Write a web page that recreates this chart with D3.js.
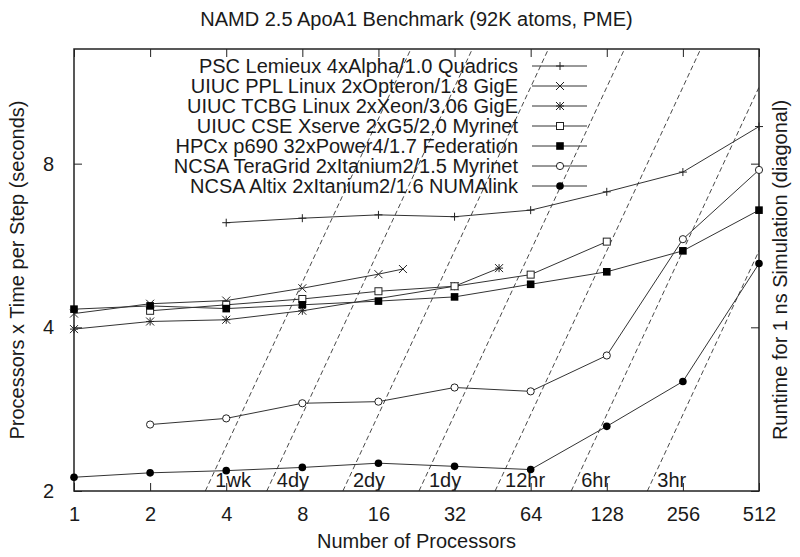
<!DOCTYPE html>
<html>
<head>
<meta charset="utf-8">
<script src="https://cdn.jsdelivr.net/npm/d3@7"></script>
<style>
  body { margin: 0; background: #fff; }
  text { font-family: "Liberation Sans", Arial, sans-serif; fill: #1a1a1a; }
</style>
</head>
<body>
<script>
// processor counts / values (P x time per step, seconds)
const lemieuxP = [4, 8, 16, 32, 64, 128, 256, 512];
const lemieuxY = [6.23, 6.35, 6.44, 6.39, 6.57, 7.10, 7.72, 9.36];
const opteronP = [1, 2, 4, 8, 16, 20];
const opteronY = [4.24, 4.42, 4.48, 4.72, 5.01, 5.12];
const xeonP = [1, 2, 4, 8, 32, 48];
const xeonY = [3.97, 4.10, 4.13, 4.29, 4.76, 5.14];
const xserveP = [2, 4, 8, 16, 32, 64, 128];
const xserveY = [4.29, 4.40, 4.51, 4.66, 4.76, 5.00, 5.75];
const hpcxP = [1, 2, 4, 8, 16, 32, 64, 128, 256, 512];
const hpcxY = [4.32, 4.38, 4.33, 4.40, 4.47, 4.55, 4.80, 5.06, 5.53, 6.57];
const teragridP = [2, 4, 8, 16, 32, 64, 128, 256, 512];
const teragridY = [2.65, 2.72, 2.90, 2.92, 3.10, 3.05, 3.55, 5.81, 7.79];
const altixP = [1, 2, 4, 8, 16, 32, 64, 128, 256, 512];
const altixY = [2.12, 2.16, 2.18, 2.21, 2.25, 2.22, 2.19, 2.63, 3.18, 5.24];

const seriesNames = [
  "PSC Lemieux 4xAlpha/1.0 Quadrics",
  "UIUC PPL Linux 2xOpteron/1.8 GigE",
  "UIUC TCBG Linux 2xXeon/3.06 GigE",
  "UIUC CSE Xserve 2xG5/2.0 Myrinet",
  "HPCx p690 32xPower4/1.7 Federation",
  "NCSA TeraGrid 2xItanium2/1.5 Myrinet",
  "NCSA Altix 2xItanium2/1.6 NUMAlink"
];
const markerTypes = ["plus", "cross", "star", "box", "boxfill", "circle", "circlefill"];

// diagonal lines: runtime for 1 ns (1e6 steps)
const runtimeLabels = ["1wk", "4dy", "2dy", "1dy", "12hr", "6hr", "3hr"];
const runtimeSeconds = [604800, 345600, 172800, 86400, 43200, 21600, 10800];
const stepsPerNs = 1e6;

const xTicks = [1, 2, 4, 8, 16, 32, 64, 128, 256, 512];
const yTicks = [2, 4, 8];

const series = [
  [lemieuxP, lemieuxY], [opteronP, opteronY], [xeonP, xeonY], [xserveP, xserveY],
  [hpcxP, hpcxY], [teragridP, teragridY], [altixP, altixY]
].map(([p, y], i) => ({
  name: seriesNames[i], marker: markerTypes[i],
  points: p.map((v, j) => [v, y[j]])
}));

const W = 800, H = 557;
const m = { left: 74, right: 41, top: 49, bottom: 66 };
const iw = W - m.left - m.right, ih = H - m.top - m.bottom;

const x = d3.scaleLog().base(2).domain([1, 512]).range([0, iw]);
const y = d3.scaleLog().base(2).domain([2, 13]).range([ih, 0]);

const svg = d3.select("body").append("svg").attr("width", W).attr("height", H);
const g = svg.append("g").attr("transform", `translate(${m.left},${m.top})`);

svg.append("defs").append("clipPath").attr("id", "clip")
  .append("rect").attr("width", iw).attr("height", ih);

// title and axis labels
svg.append("text").attr("x", m.left + iw / 2).attr("y", 26)
  .attr("text-anchor", "middle").attr("font-size", 20)
  .text("NAMD 2.5 ApoA1 Benchmark (92K atoms, PME)");
svg.append("text").attr("x", m.left + iw / 2).attr("y", 548)
  .attr("text-anchor", "middle").attr("font-size", 20).text("Number of Processors");
svg.append("text").attr("transform", `translate(24,${m.top + ih / 2}) rotate(-90)`)
  .attr("text-anchor", "middle").attr("font-size", 20)
  .text("Processors x Time per Step (seconds)");
svg.append("text").attr("transform", `translate(787,${m.top + ih / 2}) rotate(-90)`)
  .attr("text-anchor", "middle").attr("font-size", 20)
  .text("Runtime for 1 ns Simulation (diagonal)");

// diagonal runtime lines
const diag = g.append("g").attr("clip-path", "url(#clip)");
runtimeSeconds.forEach((r, i) => {
  const pLo = y.domain()[0] * stepsPerNs / r;
  const pHi = y.domain()[1] * stepsPerNs / r;
  diag.append("line")
    .attr("x1", x(pLo)).attr("y1", y(y.domain()[0]))
    .attr("x2", x(pHi)).attr("y2", y(y.domain()[1]))
    .attr("stroke", "#333").attr("stroke-width", 0.9)
    .attr("stroke-dasharray", "5,3");
  g.append("text").attr("x", x(pLo) + 10).attr("y", y(y.domain()[0]) - 4)
    .attr("font-size", 20).text(runtimeLabels[i]);
});

// axes with inward ticks on all sides
const tk = 8;
g.append("g").attr("transform", `translate(0,${ih})`)
  .call(d3.axisBottom(x).tickValues(xTicks).tickFormat(d3.format("d")).tickSize(-tk).tickPadding(tk + 8))
  .call(a => a.select(".domain").remove());
g.append("g")
  .call(d3.axisTop(x).tickValues(xTicks).tickFormat("").tickSize(-tk))
  .call(a => a.select(".domain").remove());
g.append("g")
  .call(d3.axisLeft(y).tickValues(yTicks).tickFormat(d3.format("d")).tickSize(-tk).tickPadding(tk + 12))
  .call(a => a.select(".domain").remove());
g.append("g").attr("transform", `translate(${iw},0)`)
  .call(d3.axisRight(y).tickValues(yTicks).tickFormat("").tickSize(-tk))
  .call(a => a.select(".domain").remove());
g.selectAll(".tick text").attr("font-size", 20).attr("font-family", "Liberation Sans, Arial, sans-serif").attr("fill", "#1a1a1a");
g.selectAll(".tick line").attr("stroke", "#222");

g.append("rect").attr("width", iw).attr("height", ih)
  .attr("fill", "none").attr("stroke", "#222").attr("stroke-width", 1.5);

// markers
function drawMarker(sel, type) {
  const s = 4;
  if (type === "plus") {
    sel.append("path").attr("d", `M${-s},0H${s}M0,${-s}V${s}`).attr("stroke", "#222").attr("fill", "none");
  } else if (type === "cross") {
    sel.append("path").attr("d", `M${-s},${-s}L${s},${s}M${-s},${s}L${s},${-s}`).attr("stroke", "#222").attr("fill", "none");
  } else if (type === "star") {
    sel.append("path").attr("d", `M${-s},0H${s}M0,${-s}V${s}M${-s},${-s}L${s},${s}M${-s},${s}L${s},${-s}`).attr("stroke", "#222").attr("fill", "none");
  } else if (type === "box") {
    sel.append("rect").attr("x", -3.5).attr("y", -3.5).attr("width", 7).attr("height", 7).attr("fill", "#fff").attr("stroke", "#222");
  } else if (type === "boxfill") {
    sel.append("rect").attr("x", -3.8).attr("y", -3.8).attr("width", 7.6).attr("height", 7.6).attr("fill", "#000");
  } else if (type === "circle") {
    sel.append("circle").attr("r", 3.6).attr("fill", "#fff").attr("stroke", "#222");
  } else if (type === "circlefill") {
    sel.append("circle").attr("r", 3.8).attr("fill", "#000");
  }
}

const line = d3.line().x(d => x(d[0])).y(d => y(d[1]));
const plot = g.append("g");
series.forEach(s => {
  plot.append("path").datum(s.points).attr("d", line)
    .attr("fill", "none").attr("stroke", "#333").attr("stroke-width", 1);
});
series.forEach(s => {
  plot.selectAll(null).data(s.points).enter().append("g")
    .attr("transform", d => `translate(${x(d[0])},${y(d[1])})`)
    .each(function () { drawMarker(d3.select(this), s.marker); });
});

// legend
const leg = svg.append("g");
series.forEach((s, i) => {
  const yy = 66 + i * 20;
  leg.append("text").attr("x", 518).attr("y", yy).attr("dy", "0.35em")
    .attr("text-anchor", "end").attr("font-size", 20).text(s.name);
  leg.append("line").attr("x1", 532).attr("x2", 587).attr("y1", yy).attr("y2", yy)
    .attr("stroke", "#333");
  const mk = leg.append("g").attr("transform", `translate(560,${yy})`);
  drawMarker(mk, s.marker);
});
</script>
</body>
</html>
